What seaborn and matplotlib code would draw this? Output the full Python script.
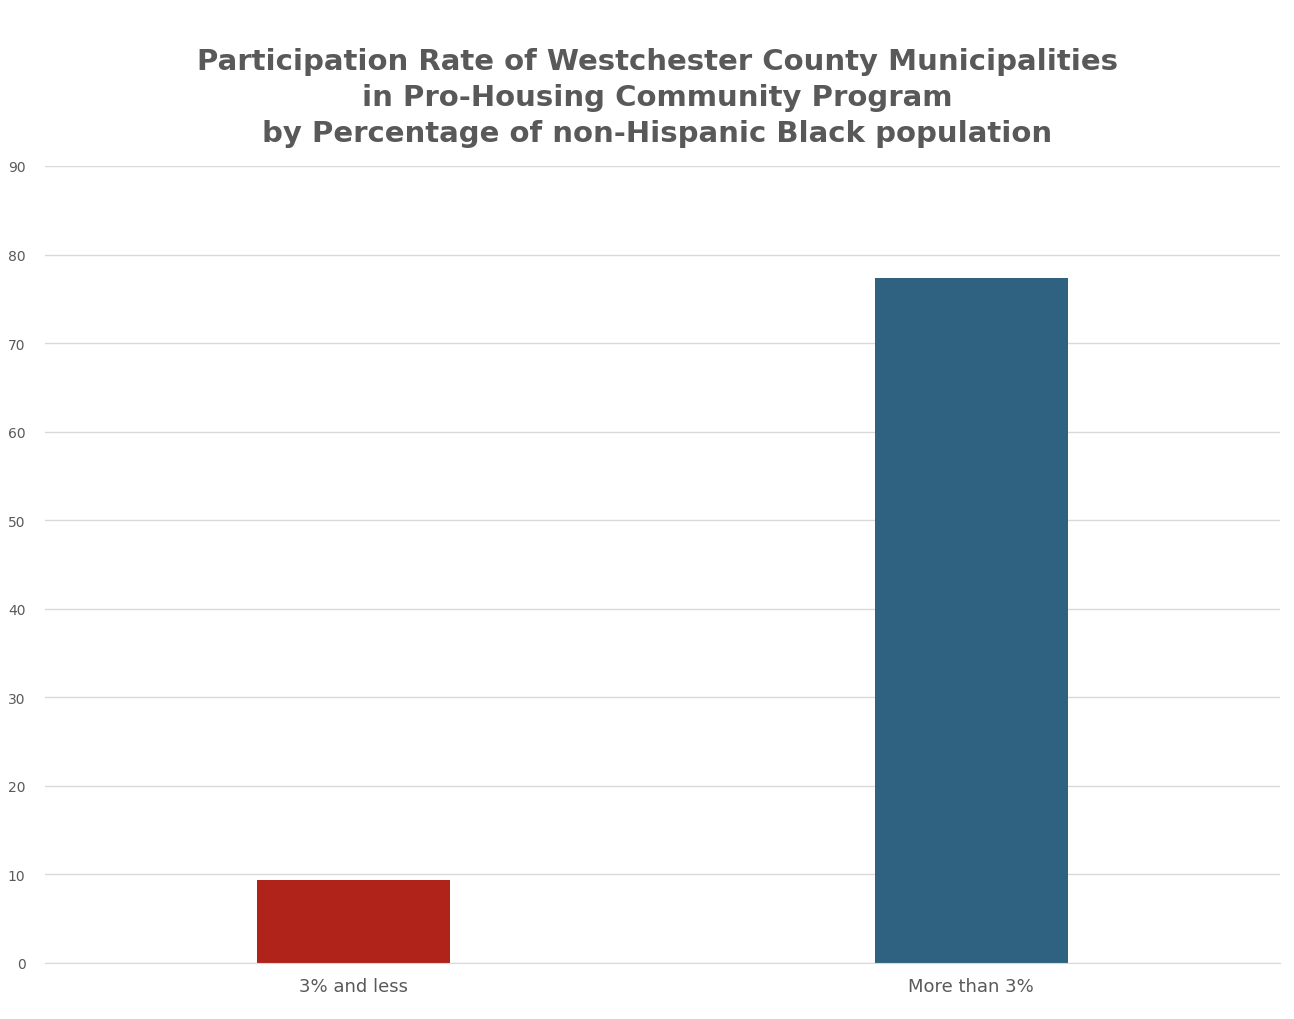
import matplotlib
matplotlib.use("Agg")
import matplotlib.pyplot as plt
import seaborn as sns
import pandas as pd

categories = ["3% and less", "More than 3%"]
values = [9.4, 77.3]
colors = ["#B0231A", "#2E6280"]
title = ("Participation Rate of Westchester County Municipalities\n"
         "in Pro-Housing Community Program\n"
         "by Percentage of non-Hispanic Black population")

df = pd.DataFrame({"cat": categories, "val": values})
fig = plt.figure(figsize=(12.94, 10.2), dpi=100)
ax = fig.add_axes([45/1294, 1-964/1020, 1235/1294, (964-167)/1020])
sns.barplot(data=df, x="cat", y="val", hue="cat", palette=colors, width=0.313,
            legend=False, ax=ax, saturation=1)
ax.set_ylim(0, 90)
ax.set_yticks(range(0, 91, 10))
ax.grid(axis="y", color="#D9D9D9", linewidth=1)
ax.set_axisbelow(True)
for s in ["top", "right", "left"]:
    ax.spines[s].set_visible(False)
ax.spines["bottom"].set_color("#D9D9D9")
ax.tick_params(axis="both", length=0, colors="#595959")
ax.tick_params(axis="y", labelsize=10, pad=14)
ax.tick_params(axis="x", labelsize=13, pad=10)
ax.set_xlabel("")
ax.set_ylabel("")
fig.text(0.508, 1-98/1020, title, ha="center", va="center", fontsize=21,
         fontweight="bold", color="#595959", linespacing=1.35)
fig.savefig("out.png", dpi=100)
